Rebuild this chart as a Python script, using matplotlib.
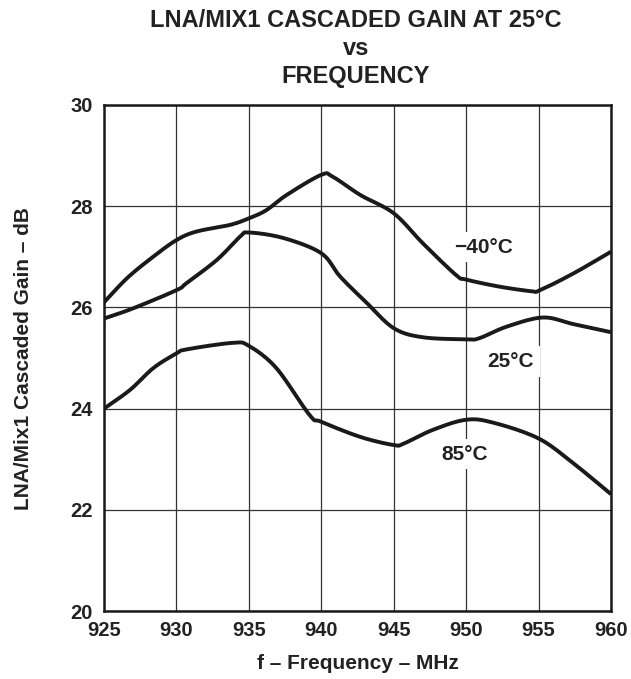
import matplotlib
matplotlib.use("Agg")
import matplotlib.pyplot as plt
import numpy as np

plt.rcParams['font.family'] = ['Liberation Sans', 'DejaVu Sans']
plt.rcParams['font.weight'] = 'bold'

# gain vs frequency
freq_m40 = [925, 926.6, 928.3, 930, 931.4, 933.7, 935, 936.2, 937.6, 940, 940.8, 942.7, 945, 947, 949.3, 950, 952.3, 954.5, 955.1, 957.4, 960]
gain_m40 = [26.1, 26.58, 26.98, 27.33, 27.5, 27.63, 27.76, 27.92, 28.22, 28.62, 28.58, 28.22, 27.86, 27.27, 26.64, 26.55, 26.41, 26.32, 26.34, 26.67, 27.1]

freq_25 = [925, 927, 930, 930.7, 932.8, 934.4, 935, 937.4, 940, 941.3, 943.1, 945, 947, 950, 950.9, 952.8, 955.3, 957.4, 960]
gain_25 = [25.78, 25.98, 26.34, 26.48, 26.94, 27.4, 27.48, 27.37, 27.07, 26.61, 26.1, 25.59, 25.41, 25.37, 25.39, 25.62, 25.8, 25.67, 25.51]

freq_85 = [925, 926.8, 928.4, 930, 930.7, 933.9, 935, 936.9, 939.2, 940, 942.7, 945, 945.7, 947.7, 950, 951.9, 955, 957.4, 960]
gain_85 = [24.0, 24.37, 24.8, 25.09, 25.17, 25.3, 25.24, 24.8, 23.87, 23.74, 23.44, 23.28, 23.31, 23.58, 23.78, 23.72, 23.41, 22.92, 22.31]

labels = ["\u221240\u00b0C", "25\u00b0C", "85\u00b0C"]
label_pos = [(951.2, 27.19), (953.1, 24.93), (949.9, 23.1)]


def smooth(x, y, n=12):
    # catmull-rom through the read points, just to round the corners
    x = np.asarray(x, float)
    y = np.asarray(y, float)
    px = np.concatenate([[2 * x[0] - x[1]], x, [2 * x[-1] - x[-2]]])
    py = np.concatenate([[2 * y[0] - y[1]], y, [2 * y[-1] - y[-2]]])
    t = np.linspace(0, 1, n, endpoint=False)
    ox, oy = [], []
    for i in range(1, len(px) - 2):
        for p, o in ((px, ox), (py, oy)):
            p0, p1, p2, p3 = p[i - 1], p[i], p[i + 1], p[i + 2]
            o.extend(0.5 * (2 * p1 + (p2 - p0) * t + (2 * p0 - 5 * p1 + 4 * p2 - p3) * t ** 2
                            + (3 * p1 - p0 - 3 * p2 + p3) * t ** 3))
    ox.append(x[-1])
    oy.append(y[-1])
    return ox, oy


fig = plt.figure(figsize=(6.31, 6.79), dpi=100)
ax = fig.add_axes([0.1648, 0.1001, 0.8035, 0.7453])

for f, g in [(freq_m40, gain_m40), (freq_25, gain_25), (freq_85, gain_85)]:
    sx, sy = smooth(f, g)
    ax.plot(sx, sy, color='#1a1a1a', lw=2.8, solid_capstyle='butt', zorder=3)

for txt, (x, y) in zip(labels, label_pos):
    ax.text(x, y, txt, ha='center', va='center', fontsize=15, fontweight='bold', color='#222222',
            bbox=dict(facecolor='white', edgecolor='none', pad=4), zorder=4)

ax.set_xlim(925, 960)
ax.set_ylim(20, 30)
ax.set_xticks(range(925, 961, 5))
ax.set_yticks(range(20, 31, 2))
ax.grid(True, color='#333333', lw=0.9)
ax.tick_params(length=0, labelsize=14.5)
ax.tick_params(axis='x', pad=7)
ax.tick_params(axis='y', pad=8)
for lab in ax.get_xticklabels() + ax.get_yticklabels():
    lab.set_fontweight('bold')
    lab.set_color('#222222')
for s in ax.spines.values():
    s.set_linewidth(1.8)
    s.set_color('#1a1a1a')

ax.set_xlabel("f \u2013 Frequency \u2013 MHz", fontsize=15, fontweight='bold', labelpad=10, color='#222222')
ax.set_ylabel("LNA/Mix1 Cascaded Gain \u2013 dB", fontsize=15, fontweight='bold', labelpad=27, color='#222222')

fig.text(0.564, 0.987, "LNA/MIX1 CASCADED GAIN AT 25\u00b0C\nvs\nFREQUENCY", ha='center', va='top',
         fontsize=17, fontweight='bold', linespacing=1.28, color='#222222')

fig.savefig("out.png", dpi=100)
